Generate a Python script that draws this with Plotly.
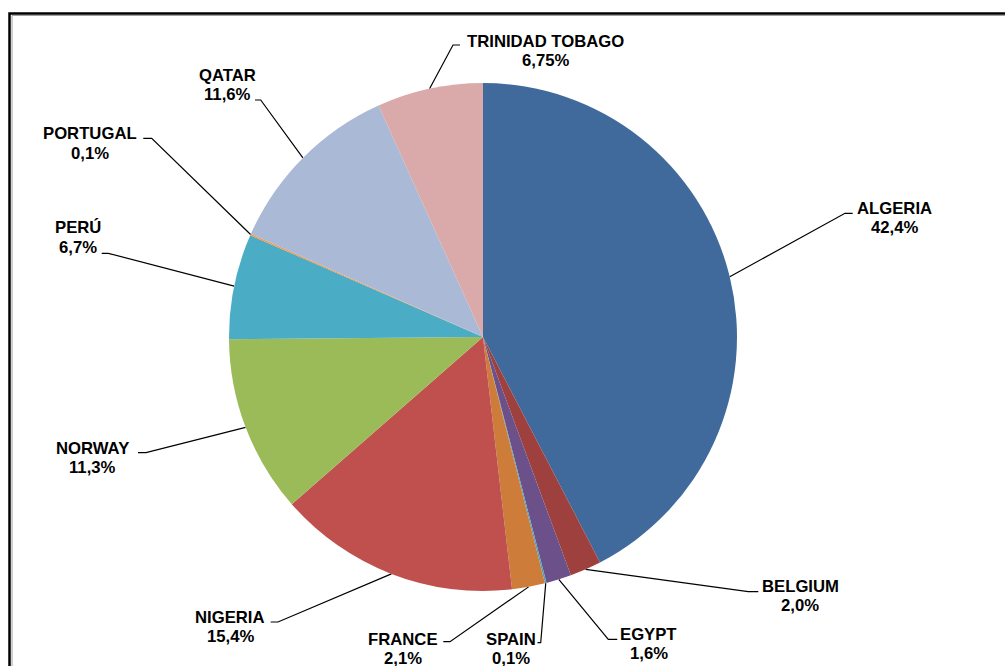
import math
import plotly.graph_objects as go

# ---- data ----
countries = ["ALGERIA", "BELGIUM", "EGYPT", "SPAIN", "FRANCE", "NIGERIA",
             "NORWAY", "PERÚ", "PORTUGAL", "QATAR", "TRINIDAD TOBAGO"]
shares = [42.4, 2.0, 1.6, 0.1, 2.1, 15.4, 11.3, 6.7, 0.1, 11.6, 6.75]
share_labels = ["42,4%", "2,0%", "1,6%", "0,1%", "2,1%", "15,4%",
                "11,3%", "6,7%", "0,1%", "11,6%", "6,75%"]

# ---- style ----
colors = ["#416A9C", "#9E403D", "#6C5089", "#47A3BC", "#CD7C3A", "#C0504E",
          "#9BBB59", "#4BACC6", "#F79646", "#AAB9D6", "#D9AAA9"]
W, H = 1005, 666
CX, CY, R = 483, 337, 254          # pie centre / radius in pixels
FS = 16.7
FONT = dict(family="Arial, Liberation Sans, sans-serif", size=FS, color="black", weight="bold")
LINE_GAP = 19.5                    # baseline-to-baseline distance
BASE_OFF = 5.6                     # baseline offset below a single-line box middle

# label placement: text centre x, first-line baseline y, elbow x, elbow y, tick end x
label_pos = {
    "ALGERIA":         (894.5, 214.0, 845.0, 213.3, 852.7),
    "BELGIUM":         (800.0, 591.7, 748.3, 591.7, 758.3),
    "EGYPT":           (648.7, 640.0, 608.3, 639.3, 617.3),
    "SPAIN":           (510.8, 645.0, 540.7, 642.7, 537.5),
    "FRANCE":          (403.0, 645.0, 450.0, 641.7, 443.3),
    "NIGERIA":         (230.0, 622.7, 278.0, 622.0, 270.7),
    "NORWAY":          (92.0, 454.0, 146.0, 452.7, 138.0),
    "PERÚ":            (77.5, 233.3, 108.3, 253.3, 101.7),
    "PORTUGAL":        (90.0, 139.3, 151.7, 138.3, 143.3),
    "QATAR":           (227.8, 81.0, 260.7, 100.0, 255.0),
    "TRINIDAD TOBAGO": (545.0, 46.7, 453.0, 45.0, 460.0),
}

fig = go.Figure()

fig.add_trace(go.Pie(
    labels=countries, values=shares, sort=False, direction="clockwise",
    rotation=0, marker=dict(colors=colors, line=dict(width=0)),
    textinfo="none", hoverinfo="label+percent", showlegend=False,
    domain=dict(x=[(CX - R) / W, (CX + R) / W], y=[1 - (CY + R) / H, 1 - (CY - R) / H]),
))

# leader lines: start at the arc midpoint of each slice (computed from data)
total = sum(shares)
cum = 0.0
annotations = []
for name, v, pl in zip(countries, shares, share_labels):
    mid = (cum + v / 2) / total * 2 * math.pi
    cum += v
    sx = CX + R * math.sin(mid)
    sy = CY - R * math.cos(mid)
    tx, tb, ex, ey, tk = label_pos[name]
    fig.add_trace(go.Scatter(
        x=[sx, ex, tk], y=[sy, ey, ey], mode="lines",
        line=dict(color="black", width=1.2), hoverinfo="skip", showlegend=False,
        xaxis="x", yaxis="y"))
    for i, txt in enumerate([name, pl]):
        annotations.append(dict(
            x=tx, y=tb + i * LINE_GAP - BASE_OFF, xref="x", yref="y", text=txt,
            showarrow=False, font=FONT, xanchor="center", yanchor="middle", align="center"))

fig.update_layout(
    width=W, height=H, margin=dict(l=0, r=0, t=0, b=0),
    paper_bgcolor="white", plot_bgcolor="rgba(0,0,0,0)",
    xaxis=dict(range=[0, W], visible=False, fixedrange=True, domain=[0, 1]),
    yaxis=dict(range=[H, 0], visible=False, fixedrange=True, domain=[0, 1]),
    annotations=annotations,
    shapes=[
        dict(type="rect", xref="x", yref="y", x0=9.5, y0=13.5, x1=W + 20, y1=H + 20,
             line=dict(color="black", width=2.5), layer="above"),
        dict(type="rect", xref="x", yref="y", x0=12, y0=15.5, x1=W + 20, y1=H + 20,
             line=dict(color="#A0A0A0", width=1), layer="above"),
    ],
)

fig.write_html("out.html", config=dict(displayModeBar=False),
               post_script="document.body.style.margin='0';document.body.style.overflow='hidden';")
